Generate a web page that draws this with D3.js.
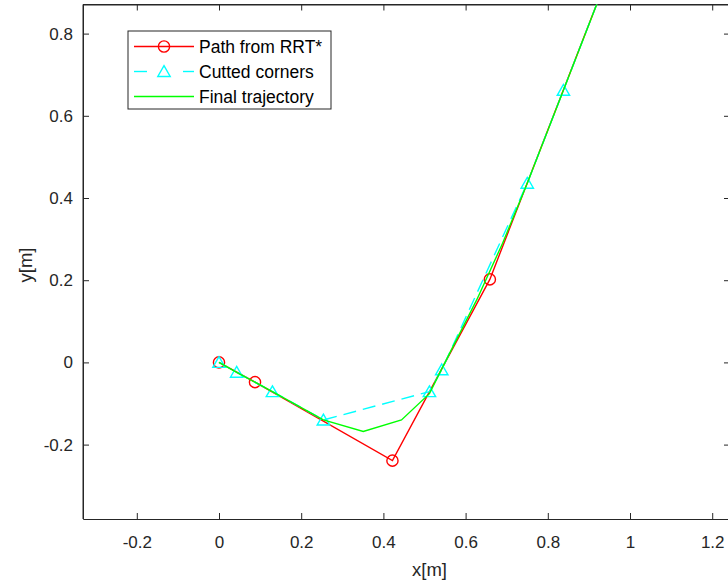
<!DOCTYPE html>
<html>
<head>
<meta charset="utf-8">
<script src="https://cdn.jsdelivr.net/npm/d3@7"></script>
<style>
  html, body { margin: 0; padding: 0; background: #ffffff; }
  svg { display: block; }
  text { font-family: "Liberation Sans", Arial, Helvetica, sans-serif; }
</style>
</head>
<body>
<script>
// ---- data ----
const rrtX  = [0, 0.0876, 0.422, 0.659, 0.965];
const rrtY  = [0, -0.048, -0.239, 0.202, 0.99];
const cutX  = [0, 0.043, 0.13, 0.254, 0.512, 0.542, 0.750, 0.838, 0.93];
const cutY  = [0, -0.024, -0.071, -0.140, -0.071, -0.018, 0.436, 0.662, 0.900];
const trajX = [0, 0.043, 0.13, 0.254, 0.351, 0.444, 0.512, 0.56, 0.627, 0.69, 0.750, 0.838, 0.965];
const trajY = [0, -0.024, -0.071, -0.140, -0.168, -0.140, -0.076, 0.02, 0.152, 0.29, 0.436, 0.662, 0.99];
const xTicks = [-0.2, 0, 0.2, 0.4, 0.6, 0.8, 1, 1.2];
const yTicks = [-0.2, 0, 0.2, 0.4, 0.6, 0.8];
const xDomain = [-0.3309, 1.2433];
const yDomain = [-0.381, 0.8708];
const legendLabels = ["Path from RRT*", "Cutted corners", "Final trajectory"];

const W = 728, H = 584;
const box = { left: 83, right: 730, top: 4.5, bottom: 519 };
const axisColor = "#262626";

const svg = d3.select("body").append("svg").attr("width", W).attr("height", H);

const x = d3.scaleLinear().domain(xDomain).range([box.left, box.right]);
const y = d3.scaleLinear().domain(yDomain).range([box.bottom, box.top]);

svg.append("defs").append("clipPath").attr("id", "clip")
  .append("rect").attr("x", box.left).attr("y", box.top)
  .attr("width", box.right - box.left).attr("height", box.bottom - box.top);

// axes (ticks inward)
const tl = 6;
const fmt = d => String(d);
const gx = svg.append("g").attr("transform", `translate(0,${box.bottom})`)
  .call(d3.axisBottom(x).tickValues(xTicks).tickFormat(fmt).tickSizeInner(-tl).tickSizeOuter(0).tickPadding(17));
const gxt = svg.append("g").attr("transform", `translate(0,${box.top})`)
  .call(d3.axisTop(x).tickValues(xTicks).tickFormat("").tickSizeInner(-tl).tickSizeOuter(0));
const gy = svg.append("g").attr("transform", `translate(${box.left},0)`)
  .call(d3.axisLeft(y).tickValues(yTicks).tickFormat(fmt).tickSizeInner(-tl).tickSizeOuter(0).tickPadding(10));
const gyr = svg.append("g").attr("transform", `translate(${box.right},0)`)
  .call(d3.axisRight(y).tickValues(yTicks).tickFormat("").tickSizeInner(-tl).tickSizeOuter(0));

[gx, gxt, gy, gyr].forEach(g => {
  g.select(".domain").attr("stroke", axisColor).attr("stroke-width", 1);
  g.selectAll(".tick line").attr("stroke", axisColor).attr("stroke-width", 1);
  g.selectAll(".tick text").attr("fill", axisColor).style("font-size", "17px")
    .style("font-family", '"Liberation Sans", Arial, sans-serif');
});
svg.append("line").attr("x1", box.left).attr("x2", box.right).attr("y1", box.top).attr("y2", box.top)
  .attr("stroke", axisColor);
svg.append("line").attr("x1", box.left).attr("x2", box.left).attr("y1", box.top).attr("y2", box.bottom)
  .attr("stroke", axisColor);

// axis labels
svg.append("text").attr("x", (box.left + 728) / 2 + 24).attr("y", 576)
  .attr("text-anchor", "middle").attr("fill", axisColor).style("font-size", "18.5px").text("x[m]");
svg.append("text").attr("transform", `translate(32,265) rotate(-90)`)
  .attr("text-anchor", "middle").attr("fill", axisColor).style("font-size", "18.5px").text("y[m]");

// plot content
const plot = svg.append("g").attr("clip-path", "url(#clip)");
const line = d3.line().x(d => x(d[0])).y(d => y(d[1]));
const rrt = rrtX.map((v, i) => [v, rrtY[i]]);
const cut = cutX.map((v, i) => [v, cutY[i]]);
const traj = trajX.map((v, i) => [v, trajY[i]]);

const triPath = (cx, cy) => `M${cx},${cy - 5.8}L${cx + 6.2},${cy + 5}L${cx - 6.2},${cy + 5}Z`;

plot.append("path").datum(rrt).attr("d", line).attr("fill", "none")
  .attr("stroke", "#ff0000").attr("stroke-width", 1.4);
plot.selectAll(".circ").data(rrt).enter().append("circle")
  .attr("cx", d => x(d[0])).attr("cy", d => y(d[1])).attr("r", 5.6)
  .attr("fill", "none").attr("stroke", "#ff0000").attr("stroke-width", 1.4);

plot.append("path").datum(cut).attr("d", line).attr("fill", "none")
  .attr("stroke", "#00ffff").attr("stroke-width", 1.4).attr("stroke-dasharray", "13,7");
plot.selectAll(".tri").data(cut).enter().append("path")
  .attr("d", d => triPath(x(d[0]), y(d[1])))
  .attr("fill", "none").attr("stroke", "#00ffff").attr("stroke-width", 1.4);

plot.append("path").datum(traj).attr("d", line).attr("fill", "none")
  .attr("stroke", "#00ff00").attr("stroke-width", 1.4);

// legend
const lg = svg.append("g");
lg.append("rect").attr("x", 128).attr("y", 31).attr("width", 203).attr("height", 78)
  .attr("fill", "#ffffff").attr("stroke", axisColor).attr("stroke-width", 1);
const rows = [46.5, 71.5, 96.5];
const lx0 = 134, lx1 = 194, lxm = 164;
// row 1
lg.append("line").attr("x1", lx0).attr("x2", lx1).attr("y1", rows[0]).attr("y2", rows[0])
  .attr("stroke", "#ff0000").attr("stroke-width", 1.4);
lg.append("circle").attr("cx", lxm).attr("cy", rows[0]).attr("r", 5.6)
  .attr("fill", "none").attr("stroke", "#ff0000").attr("stroke-width", 1.4);
// row 2
lg.append("line").attr("x1", lx0).attr("x2", lx0 + 13).attr("y1", rows[1]).attr("y2", rows[1])
  .attr("stroke", "#00ffff").attr("stroke-width", 1.4);
lg.append("line").attr("x1", lx1 - 11).attr("x2", lx1).attr("y1", rows[1]).attr("y2", rows[1])
  .attr("stroke", "#00ffff").attr("stroke-width", 1.4);
lg.append("path").attr("d", triPath(lxm, rows[1]))
  .attr("fill", "none").attr("stroke", "#00ffff").attr("stroke-width", 1.4);
// row 3
lg.append("line").attr("x1", lx0).attr("x2", lx1).attr("y1", rows[2]).attr("y2", rows[2])
  .attr("stroke", "#00ff00").attr("stroke-width", 1.4);
lg.selectAll(".lt").data(legendLabels).enter().append("text")
  .attr("x", 199).attr("y", (d, i) => rows[i]).attr("dy", "0.35em")
  .attr("fill", "#000000").style("font-size", "17.5px").text(d => d);
</script>
</body>
</html>
